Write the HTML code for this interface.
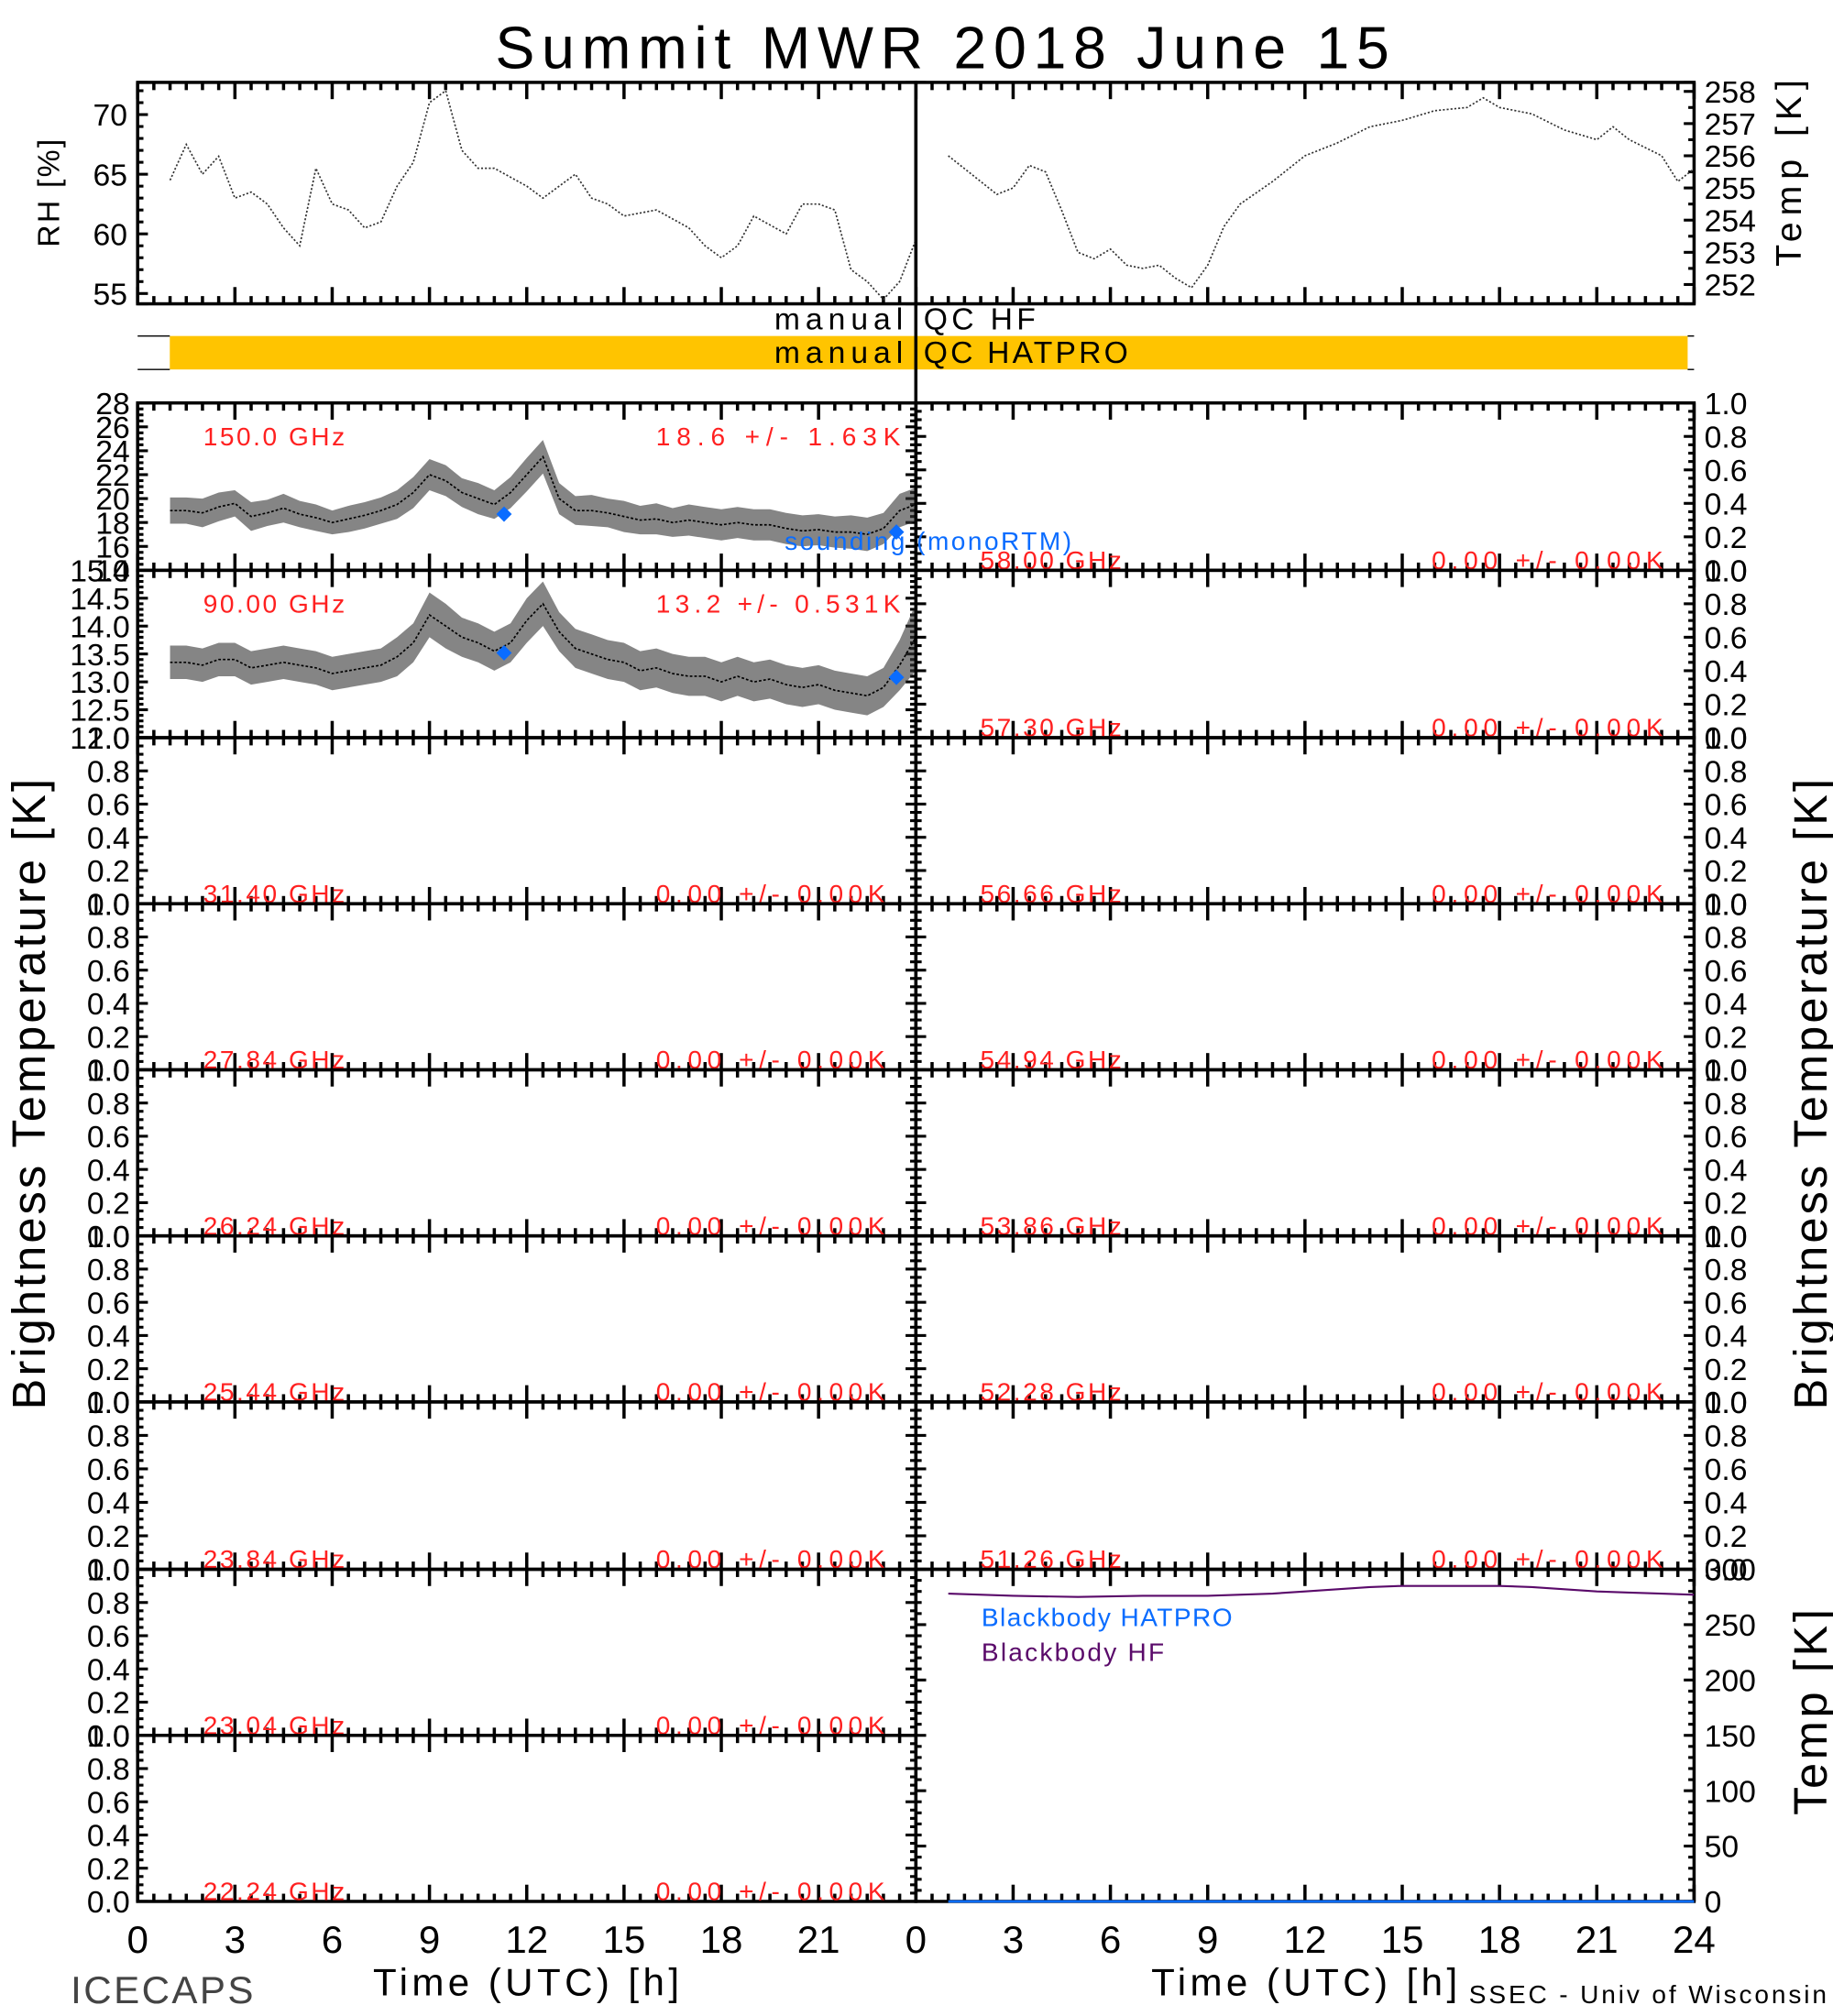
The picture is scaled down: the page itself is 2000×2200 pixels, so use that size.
<!DOCTYPE html>
<html><head><meta charset="utf-8"><style>
html,body{margin:0;padding:0;background:#fff;}
svg{display:block;}
text{font-family:"Liberation Sans",sans-serif;}
</style></head><body>
<svg id="chart" width="2000" height="2200" viewBox="0 0 1425 1566" preserveAspectRatio="none" xmlns="http://www.w3.org/2000/svg">
<rect width="1425" height="1566" fill="#fff"/>
<text x="385" y="53" font-size="46" textLength="695" lengthAdjust="spacing">Summit MWR 2018 June 15</text>
<g id="g"></g>
</svg>
<script>
// ---- data ----
const rhHours=[1,1.5,2,2.5,3,3.5,4,4.5,5,5.5,6,6.5,7,7.5,8,8.5,9,9.5,10,10.5,11,12,12.5,13,13.5,14,14.5,15,16,17,17.5,18,18.5,19,20,20.5,21,21.5,22,22.5,23,23.5,24];
const rhValues=[64.5,67.5,65,66.5,63,63.5,62.5,60.5,59,65.5,62.5,62,60.5,61,64,66,71,72,67,65.5,65.5,64,63,64,65,63,62.5,61.5,62,60.5,59,58,59,61.5,60,62.5,62.5,62,57,56,54.5,56,59.5];
const tHours=[1,2,2.5,3,3.5,4,4.5,5,5.5,6,6.5,7,7.5,8,8.5,9,9.5,10,11,12,13,14,15,16,17,17.5,18,19,20,21,21.5,22,23,23.5,24];
const tValues=[256,255.2,254.8,255,255.7,255.5,254.3,253,252.8,253.1,252.6,252.5,252.6,252.2,251.9,252.6,253.8,254.5,255.2,256,256.4,256.9,257.1,257.4,257.5,257.8,257.5,257.3,256.8,256.5,256.9,256.5,256,255.2,255.6];
const chHours=[1,1.5,2,2.5,3,3.5,4,4.5,5,5.5,6,6.5,7,7.5,8,8.5,9,9.5,10,10.5,11,11.5,12,12.5,13,13.5,14,14.5,15,15.5,16,16.5,17,17.5,18,18.5,19,19.5,20,20.5,21,21.5,22,22.5,23,23.5,24];
const tb150=[19,19,18.8,19.3,19.6,18.5,18.8,19.2,18.7,18.4,18,18.3,18.6,19,19.5,20.5,22,21.5,20.5,20,19.5,20.5,22,23.5,20,19,19,18.8,18.5,18.2,18.3,18,18.2,18,17.8,18,17.8,17.8,17.5,17.3,17.4,17.2,17.2,17,17.5,19,19.5];
const tb150Spread=[1.1,1.1,1.2,1.2,1.1,1.2,1.1,1.2,1.1,1.1,1.0,1.1,1.1,1.1,1.2,1.3,1.3,1.3,1.2,1.3,1.2,1.3,1.4,1.4,1.3,1.2,1.3,1.2,1.3,1.2,1.3,1.2,1.3,1.3,1.3,1.3,1.3,1.3,1.3,1.3,1.3,1.3,1.4,1.4,1.3,1.4,1.4];
const tb90=[13.35,13.35,13.3,13.4,13.4,13.25,13.3,13.35,13.3,13.25,13.15,13.2,13.25,13.3,13.45,13.7,14.2,14.0,13.8,13.7,13.55,13.7,14.1,14.4,13.9,13.6,13.5,13.4,13.35,13.2,13.25,13.15,13.1,13.1,13.0,13.1,13.0,13.05,12.95,12.9,12.95,12.85,12.8,12.75,12.9,13.3,13.8];
const tb90Spread=[0.3,0.3,0.3,0.3,0.3,0.3,0.3,0.3,0.3,0.3,0.3,0.3,0.3,0.3,0.35,0.35,0.4,0.4,0.35,0.35,0.35,0.35,0.4,0.4,0.35,0.35,0.35,0.35,0.35,0.35,0.35,0.35,0.35,0.35,0.35,0.35,0.35,0.35,0.35,0.35,0.35,0.35,0.35,0.35,0.35,0.45,0.6];
const soundHours=[11.3,23.4];
const sound150=[18.7,17.2];
const sound90=[13.52,13.08];
const bbHours=[1,3,5,7,9,11,12,13,14,15,16,17,18,19,20,21,22,23,24];
const bbHF=[278,276,275,276,276,278,280,282,284,285,285,285,285,284,282,280,279,278,277];
const bbHATPRO=[0,0,0,0,0,0,0,0,0,0,0,0,0,0,0,0,0,0,0];
const leftFreqs=["150.0 GHz","90.00 GHz","31.40 GHz","27.84 GHz","26.24 GHz","25.44 GHz","23.84 GHz","23.04 GHz","22.24 GHz"];
const leftStats=["18.6 +/-  1.63K","13.2 +/- 0.531K","0.00 +/-  0.00K","0.00 +/-  0.00K","0.00 +/-  0.00K","0.00 +/-  0.00K","0.00 +/-  0.00K","0.00 +/-  0.00K","0.00 +/-  0.00K"];
const rightFreqs=["58.00 GHz","57.30 GHz","56.66 GHz","54.94 GHz","53.86 GHz","52.28 GHz","51.26 GHz"];
const xTickLabelsLeft=["0","3","6","9","12","15","18","21"];
const xTickLabelsRight=["0","3","6","9","12","15","18","21","24"];
const rhTicks=[55,60,65,70];
const tempTicks=[252,253,254,255,256,257,258];
const tb150Ticks=["14","16","18","20","22","24","26","28"];
const tb90Ticks=["12.0","12.5","13.0","13.5","14.0","14.5","15.0"];
const unitTicks=["0.0","0.2","0.4","0.6","0.8","1.0"];
const bbTicks=["0","50","100","150","200","250","300"];

// ---- drawing ----
const NS="http://www.w3.org/2000/svg";
const G=document.getElementById('g');
function el(tag,attrs,parent){const e=document.createElementNS(NS,tag);for(const k in attrs)e.setAttribute(k,attrs[k]);(parent||G).appendChild(e);return e;}
function txt(s,x,y,size,anchor,fill,parent,extra){const t=el('text',Object.assign({x:x,y:y,'font-size':size,'text-anchor':anchor||'start',fill:fill||'#000'},extra||{}),parent);t.textContent=s;return t;}
function fit(s,x0,x1,y,size,fill,extra){return txt(s,x0,y,size,'start',fill,null,Object.assign({textLength:x1-x0,lengthAdjust:'spacing','xml:space':'preserve'},extra||{}));}
const LX0=107,LX1=712,RX0=712,RX1=1317;
function xs(x0,x1){return h=>x0+(x1-x0)*h/24;}
function ys(y0,y1,v0,v1){return v=>y0-(y0-y1)*(v-v0)/(v1-v0);}

function frame(x0,x1,y0,y1,name,yMin,yMax,yMaj,yMin2){
  const g=el('g',{});
  
  
  el('rect',{x:x0,y:y1,width:x1-x0,height:y0-y1,fill:'none',stroke:'#000','stroke-width':2.5},g);
  const X=xs(x0,x1);
  for(let h=0;h<=24.001;h+=0.5){const maj=Math.abs(h%3)<0.01;const L=maj?13:6;const x=X(h);
    el('line',{x1:x,x2:x,y1:y0,y2:y0-L,stroke:'#000','stroke-width':2.5},g);
    el('line',{x1:x,x2:x,y1:y1,y2:y1+L,stroke:'#000','stroke-width':2.5},g);}
  const Y=ys(y0,y1,yMin,yMax);
  const n=Math.round((yMax-yMin)/yMin2);
  for(let i=0;i<=n;i++){const v=yMin+i*yMin2;const maj=Math.abs((v-yMin)/yMaj-Math.round((v-yMin)/yMaj))<0.01;const L=maj?8:4.5;const y=Y(v);
    el('line',{x1:x0,x2:x0+L,y1:y,y2:y,stroke:'#000','stroke-width':2.2},g);
    el('line',{x1:x1,x2:x1-L,y1:y,y2:y,stroke:'#000','stroke-width':2.2},g);}
  return g;
}
function yLabels(labels,vals,Y,x,anchor,size,name){
  labels.forEach((s,i)=>{const t=txt(s,x,Y(vals[i])+size*0.36,size,anchor,'#000');
    
    });
}
function lineSeries(hours,vals,X,Y,color,w,name,dash){
  const d=hours.map((h,i)=>(i?'L':'M')+X(h).toFixed(1)+' '+Y(vals[i]).toFixed(1)).join(' ');
  const p=el('path',{d:d,fill:'none',stroke:color,'stroke-width':w,'stroke-dasharray':dash||'none'});
  
  
}
function band(hours,vals,spread,X,Y,name){
  const up=hours.map((h,i)=>X(h).toFixed(1)+','+Y(vals[i]+spread[i]).toFixed(1));
  const dn=hours.map((h,i)=>X(h).toFixed(1)+','+Y(vals[i]-spread[i]).toFixed(1)).reverse();
  const p=el('polygon',{points:up.concat(dn).join(' '),fill:'#333','fill-opacity':0.6});
  
  
  lineSeries(hours,vals,X,Y,'#000',1.2,name+'-line','2 1.5');
}
function diamonds(hours,vals,X,Y,name){
  hours.forEach((h,i)=>{const x=X(h),y=Y(vals[i]);
    const p=el('polygon',{points:`${x},${y-6} ${x+6},${y} ${x},${y+6} ${x-6},${y}`,fill:'#0a6cff'});
    
    });
}
function nm(t,n){}

// RH panel
const XL=xs(LX0,LX1),XR=xs(RX0,RX1);
frame(LX0,LX1,236,64,'rh-panel',0,1,1,1);
const YRH=ys(228,89,55,70);
for(let v=55;v<=72;v++){const y=YRH(v);const L=(v%5==0)?8:4.5;el('line',{x1:LX0,x2:LX0+L,y1:y,y2:y,stroke:'#000','stroke-width':2.2});}
yLabels(rhTicks.map(String),rhTicks,YRH,99,'end',24,'rh-tick-label');
lineSeries(rhHours,rhValues,XL,YRH,'#333',1.2,'rh-series','1.5 1.5');
let t=txt('RH [%]',46,192,24,'start','#000',null,{transform:'rotate(-90 46 192)',textLength:84,lengthAdjust:'spacing'});
nm(t,'rh-axis-title');

frame(RX0,RX1,236,64,'temp-panel',0,1,1,1);
const YT=ys(221,71,252,258);
for(let v=252;v<=258;v+=0.5){const y=YT(v);const L=(v%1==0)?8:4.5;el('line',{x1:RX1,x2:RX1-L,y1:y,y2:y,stroke:'#000','stroke-width':2.2});}
yLabels(tempTicks.map(String),tempTicks,YT,1325,'start',24,'temp-tick-label');
lineSeries(tHours,tValues,XR,YT,'#333',1.2,'temp-series','1.5 1.5');
t=txt('Temp  [K]',1400,207,28,'start','#000',null,{transform:'rotate(-90 1400 207)',textLength:145,lengthAdjust:'spacing','xml:space':'preserve'});
nm(t,'temp-axis-title');

// QC bars
t=el('rect',{x:132,y:261,width:1180,height:26,fill:'#ffc400'});
nm(t,'qc-hatpro-bar');
[[107,132],[1312,1317]].forEach(a=>{el('line',{x1:a[0],x2:a[1],y1:261,y2:261,stroke:'#000','stroke-width':1});el('line',{x1:a[0],x2:a[1],y1:287,y2:287,stroke:'#000','stroke-width':1});});
nm(fit('manual',602,702,256,24),'qc-hf-label');
nm(fit('QC  HF',718,805,256,24),'qc-hf-title');
nm(fit('manual',602,702,282,24),'qc-hatpro-label');
nm(fit('QC  HATPRO',718,877,282,24),'qc-hatpro-title');

// channel panels
const rowsY=[313,443,573,702,831,960,1089,1219,1348,1477];
for(let r=0;r<9;r++){
  const y1=rowsY[r],y0=rowsY[r+1];
  let vmin=0,vmax=1,maj=0.2,mn=0.05,labs=unitTicks;
  if(r==0){vmin=14;vmax=28;maj=2;mn=0.5;labs=tb150Ticks;}
  if(r==1){vmin=12;vmax=15;maj=0.5;mn=0.1;labs=tb90Ticks;}
  frame(LX0,LX1,y0,y1,'left-panel-'+r,vmin,vmax,maj,mn);
  const Y=ys(y0,y1,vmin,vmax);
  const Yu=ys(y0,y1,0,1);
  yLabels(labs,labs.map(Number),Y,101,'end',24,'left-tick-label');
  if(r==0){band(chHours,tb150,tb150Spread,XL,Y,'tb150-series');diamonds(soundHours,sound150,XL,Y,'sounding-150');}
  if(r==1){band(chHours,tb90,tb90Spread,XL,Y,'tb90-series');diamonds(soundHours,sound90,XL,Y,'sounding-90');}
  const ty=(r<2)?y1+33:y0-1;
  nm(fit(leftFreqs[r],158,268,ty,20,'#ff2020'),'left-freq-label');
  nm(fit(leftStats[r],510,r<2?700:688,ty,20,'#ff2020'),'left-stats-label');
  if(r<7){
    frame(RX0,RX1,y0,y1,'right-panel-'+r,0,1,0.2,0.05);
    yLabels(unitTicks,unitTicks.map(Number),Yu,1325,'start',24,'right-tick-label');
    nm(fit(rightFreqs[r],762,872,y0-1,20,'#ff2020'),'right-freq-label');
    nm(fit('0.00 +/-  0.00K',1113,1293,y0-1,20,'#ff2020'),'right-stats-label');
  }
}
nm(fit('sounding (monoRTM)',610,833,427,20,'#0a6cff'),'sounding-legend');
// blackbody panel
frame(RX0,RX1,1477,1219,'blackbody-panel',0,300,50,10);
const YB=ys(1477,1219,0,300);
yLabels(bbTicks,bbTicks.map(Number),YB,1325,'start',24,'bb-tick-label');
lineSeries(bbHours,bbHATPRO,XR,YB,'#0a6cff',2,'bb-hatpro-series');
lineSeries(bbHours,bbHF,XR,YB,'#5a0a6a',1.5,'bb-hf-series');
nm(fit('Blackbody  HATPRO',763,958,1263,20,'#0a6cff'),'legend-bb-hatpro');
nm(fit('Blackbody  HF',763,905,1290,20,'#5a0a6a'),'legend-bb-hf');
t=txt('Temp  [K]',1420,1410,36,'start','#000',null,{transform:'rotate(-90 1420 1410)',textLength:160,lengthAdjust:'spacing'});
nm(t,'bb-axis-title');
// center divider
el('line',{x1:712,x2:712,y1:64,y2:1477,stroke:'#000','stroke-width':2.5});
// x labels
xTickLabelsLeft.forEach((s,i)=>{
  t=txt(s,XL(i*3),1517,30,'middle');nm(t,'x-tick-label-left');
});
xTickLabelsRight.forEach((s,i)=>{
  t=txt(s,XR(i*3),1517,30,'middle');nm(t,'x-tick-label-right');
});
nm(fit('Time  (UTC)  [h]',290,528,1550,30),'x-axis-title-left');
nm(fit('Time  (UTC)  [h]',895,1133,1550,30),'x-axis-title-right');
nm(fit('ICECAPS',55,197,1556,30,'#444'),'icecaps-label');
nm(fit('SSEC  -  Univ  of  Wisconsin',1142,1420,1556,20),'ssec-credit');
t=txt('Brightness  Temperature  [K]',35,1095,36,'start','#000',null,{transform:'rotate(-90 35 1095)',textLength:490,lengthAdjust:'spacing'});
nm(t,'y-axis-title-left');
t=txt('Brightness  Temperature  [K]',1420,1095,36,'start','#000',null,{transform:'rotate(-90 1420 1095)',textLength:490,lengthAdjust:'spacing'});
nm(t,'y-axis-title-right');
</script>
</body></html>
